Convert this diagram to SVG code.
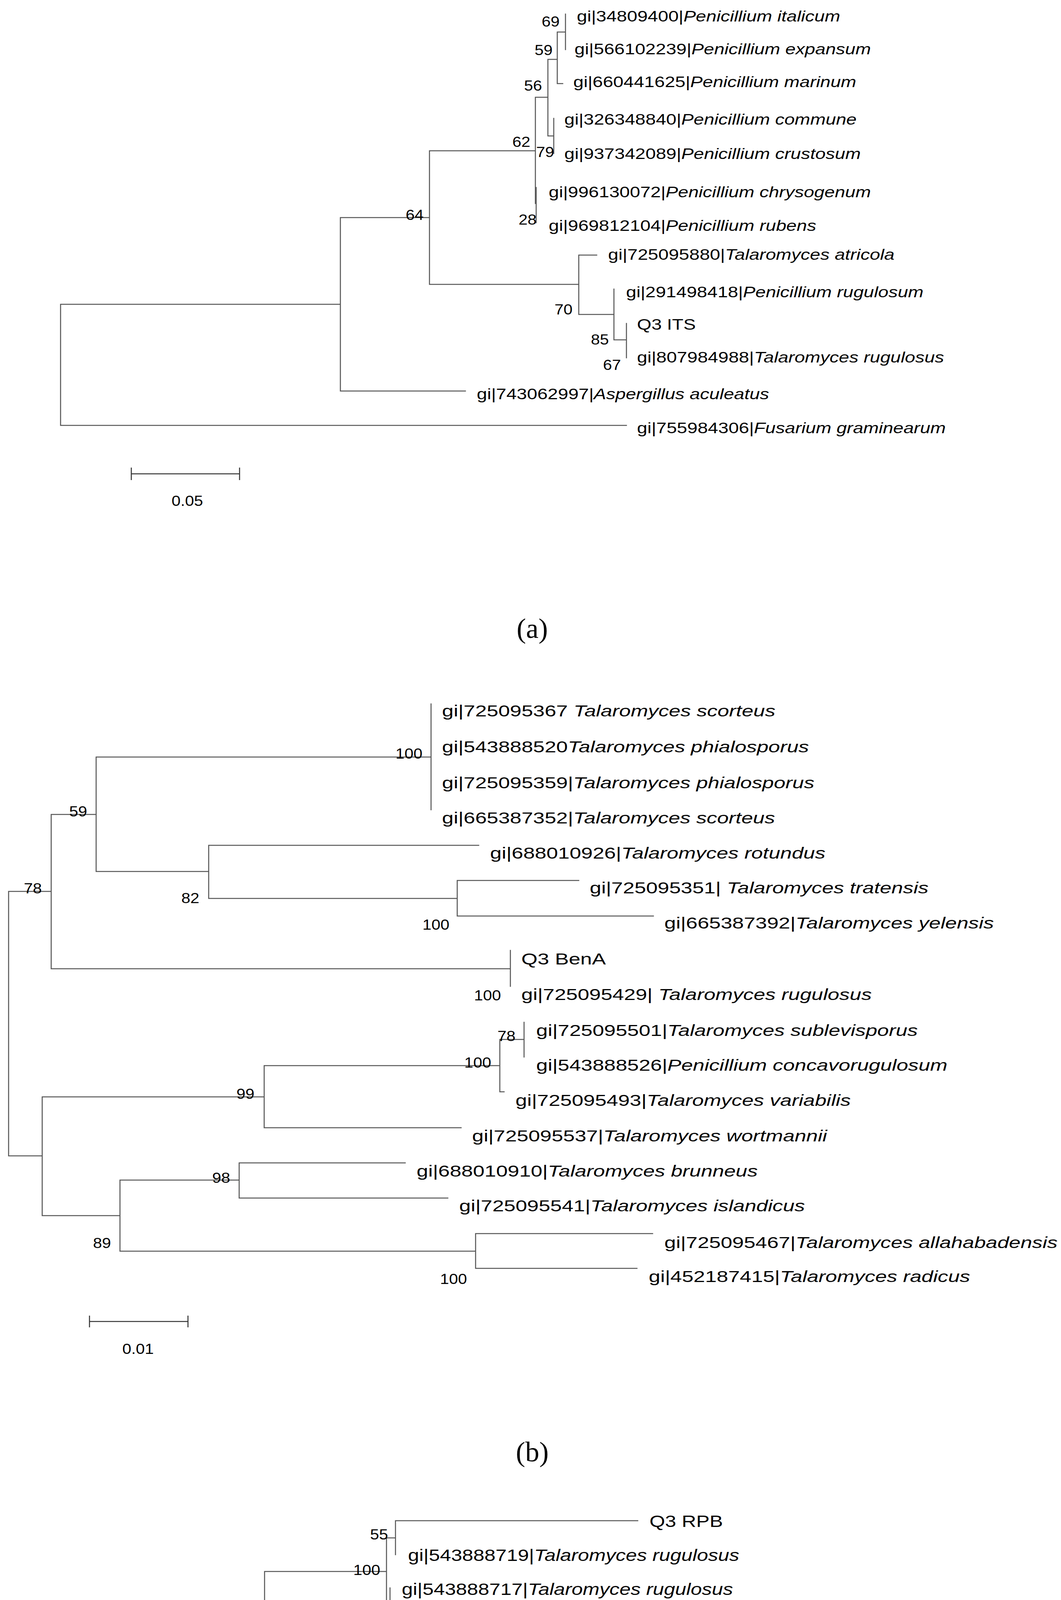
<svg xmlns="http://www.w3.org/2000/svg" width="2715" height="5667" viewBox="0 0 2715 5667">
<style>
.br{fill:none;stroke:#555;stroke-width:2.6;stroke-linecap:square}
.sb{fill:none;stroke:#333;stroke-width:2.6}
text{font-family:"Liberation Sans",Arial,sans-serif;fill:#000}
.la{font-size:38px}
.lb{font-size:41px}
.lc{font-size:42px}
.bs{font-size:37px}
.it{font-style:italic}
.pl{font-family:"Liberation Serif","Times New Roman",serif;font-size:72px;text-anchor:middle}
</style>
<rect width="2715" height="5667" fill="#fff"/>

<!-- Panel (a) -->
<g id="a-connectors">
<path class="br" d="M155 779V1089M155 779H871M155 1089H1603M871 557V1001M871 1001H1191M871 557H1099M1099 386V728M1099 386H1370M1099 728H1481M1370 249V521M1370 249H1402M1372 480V570M1402 152V348M1402 152H1426M1402 348H1417M1426 82V214M1426 82H1447M1426 214H1440M1447 36V127M1417 303V393M1481 653V805M1481 653H1527M1481 805H1571M1571 740V870M1571 870H1603M1603 828V916"/>
</g>
<g id="a-leaves" class="la">
<g id="a-n1"><text transform="translate(1476 55) scale(1.25 1)">gi|34809400|<tspan class="it">Penicillium italicum</tspan></text></g>
<g id="a-n2"><text transform="translate(1470 139) scale(1.25 1)">gi|566102239|<tspan class="it">Penicillium expansum</tspan></text></g>
<g id="a-n3"><text transform="translate(1467 223) scale(1.25 1)">gi|660441625|<tspan class="it">Penicillium marinum</tspan></text></g>
<g id="a-n4"><text transform="translate(1444 319) scale(1.25 1)">gi|326348840|<tspan class="it">Penicillium commune</tspan></text></g>
<g id="a-n5"><text transform="translate(1444 407) scale(1.25 1)">gi|937342089|<tspan class="it">Penicillium crustosum</tspan></text></g>
<g id="a-n6"><text transform="translate(1404 505) scale(1.25 1)">gi|996130072|<tspan class="it">Penicillium chrysogenum</tspan></text></g>
<g id="a-n7"><text transform="translate(1404 591) scale(1.25 1)">gi|969812104|<tspan class="it">Penicillium rubens</tspan></text></g>
<g id="a-n8"><text transform="translate(1556 665) scale(1.25 1)">gi|725095880|<tspan class="it">Talaromyces atricola</tspan></text></g>
<g id="a-n9"><text transform="translate(1602 761) scale(1.25 1)">gi|291498418|<tspan class="it">Penicillium rugulosum</tspan></text></g>
<g id="a-n10"><text transform="translate(1630 844) scale(1.25 1)">Q3 ITS</text></g>
<g id="a-n11"><text transform="translate(1630 928) scale(1.25 1)">gi|807984988|<tspan class="it">Talaromyces rugulosus</tspan></text></g>
<g id="a-n12"><text transform="translate(1220 1022) scale(1.25 1)">gi|743062997|<tspan class="it">Aspergillus aculeatus</tspan></text></g>
<g id="a-n13"><text transform="translate(1630 1109) scale(1.25 1)">gi|755984306|<tspan class="it">Fusarium graminearum</tspan></text></g>
</g>
<g id="a-bootstrap" class="bs">
<text transform="translate(1386 68) scale(1.12 1)">69</text>
<text transform="translate(1368 141) scale(1.12 1)">59</text>
<text transform="translate(1341 232) scale(1.12 1)">56</text>
<text transform="translate(1311 376) scale(1.12 1)">62</text>
<text transform="translate(1372 402) scale(1.12 1)">79</text>
<text transform="translate(1327 575) scale(1.12 1)">28</text>
<text transform="translate(1038 563) scale(1.12 1)">64</text>
<text transform="translate(1419 805) scale(1.12 1)">70</text>
<text transform="translate(1512 882) scale(1.12 1)">85</text>
<text transform="translate(1543 947) scale(1.12 1)">67</text>
</g>
<g id="a-scale">
<path class="sb" d="M336 1213H613M336 1197V1229M613 1197V1229"/>
<text class="bs" transform="translate(439 1295) scale(1.12 1)">0.05</text>
</g>
<text id="a-label" class="pl" x="1362" y="1633">(a)</text>

<!-- Panel (b) -->
<g id="b-connectors">
<path class="br" d="M22 2282V2959M22 2282H131M22 2959H108M131 2085V2480M131 2085H246M131 2480H1306M246 1938V2231M246 1938H1103M246 2231H534M1103 1802V2073M534 2164V2300M534 2164H1225M534 2300H1170M1170 2254V2345M1170 2254H1481M1170 2345H1672M1306 2433V2525M108 2808V3112M108 2808H676M108 3112H307M676 2728V2887M676 2728H1279M676 2887H1180M1279 2661V2795M1279 2661H1341M1279 2795H1290M1341 2617V2706M307 3021V3203M307 3021H612M307 3203H1217M612 2977V3067M612 2977H1037M612 3067H1146M1217 3158V3247M1217 3158H1670M1217 3247H1630"/>
</g>
<g id="b-leaves" class="lb">
<g id="b-n1"><text transform="translate(1131 1834) scale(1.3 1)">gi|725095367 <tspan class="it">Talaromyces scorteus</tspan></text></g>
<g id="b-n2"><text transform="translate(1131 1926) scale(1.3 1)">gi|543888520<tspan class="it">Talaromyces phialosporus</tspan></text></g>
<g id="b-n3"><text transform="translate(1131 2018) scale(1.3 1)">gi|725095359|<tspan class="it">Talaromyces phialosporus</tspan></text></g>
<g id="b-n4"><text transform="translate(1131 2108) scale(1.3 1)">gi|665387352|<tspan class="it">Talaromyces scorteus</tspan></text></g>
<g id="b-n5"><text transform="translate(1254 2198) scale(1.3 1)">gi|688010926|<tspan class="it">Talaromyces rotundus</tspan></text></g>
<g id="b-n6"><text transform="translate(1509 2287) scale(1.3 1)">gi|725095351| <tspan class="it">Talaromyces tratensis</tspan></text></g>
<g id="b-n7"><text transform="translate(1700 2377) scale(1.3 1)">gi|665387392|<tspan class="it">Talaromyces yelensis</tspan></text></g>
<g id="b-n8"><text transform="translate(1334 2469) scale(1.3 1)">Q3 BenA</text></g>
<g id="b-n9"><text transform="translate(1334 2560) scale(1.3 1)">gi|725095429| <tspan class="it">Talaromyces rugulosus</tspan></text></g>
<g id="b-n10"><text transform="translate(1372 2652) scale(1.3 1)">gi|725095501|<tspan class="it">Talaromyces sublevisporus</tspan></text></g>
<g id="b-n11"><text transform="translate(1372 2741) scale(1.3 1)">gi|543888526|<tspan class="it">Penicillium concavorugulosum</tspan></text></g>
<g id="b-n12"><text transform="translate(1319 2831) scale(1.3 1)">gi|725095493|<tspan class="it">Talaromyces variabilis</tspan></text></g>
<g id="b-n13"><text transform="translate(1208 2922) scale(1.3 1)">gi|725095537|<tspan class="it">Talaromyces wortmannii</tspan></text></g>
<g id="b-n14"><text transform="translate(1066 3012) scale(1.3 1)">gi|688010910|<tspan class="it">Talaromyces brunneus</tspan></text></g>
<g id="b-n15"><text transform="translate(1175 3101) scale(1.3 1)">gi|725095541|<tspan class="it">Talaromyces islandicus</tspan></text></g>
<g id="b-n16"><text transform="translate(1700 3195) scale(1.3 1)">gi|725095467|<tspan class="it">Talaromyces allahabadensis</tspan></text></g>
<g id="b-n17"><text transform="translate(1660 3282) scale(1.3 1)">gi|452187415|<tspan class="it">Talaromyces radicus</tspan></text></g>
</g>
<g id="b-bootstrap" class="bs">
<text transform="translate(1012 1942) scale(1.12 1)">100</text>
<text transform="translate(177 2090) scale(1.12 1)">59</text>
<text transform="translate(61 2287) scale(1.12 1)">78</text>
<text transform="translate(464 2312) scale(1.12 1)">82</text>
<text transform="translate(1081 2380) scale(1.12 1)">100</text>
<text transform="translate(1213 2561) scale(1.12 1)">100</text>
<text transform="translate(1273 2665) scale(1.12 1)">78</text>
<text transform="translate(1188 2733) scale(1.12 1)">100</text>
<text transform="translate(605 2813) scale(1.12 1)">99</text>
<text transform="translate(543 3028) scale(1.12 1)">98</text>
<text transform="translate(238 3195) scale(1.12 1)">89</text>
<text transform="translate(1126 3287) scale(1.12 1)">100</text>
</g>
<g id="b-scale">
<path class="sb" d="M229 3383H481M229 3368V3398M481 3368V3398"/>
<text class="bs" transform="translate(313 3466) scale(1.12 1)">0.01</text>
</g>
<text id="b-label" class="pl" x="1362" y="3741">(b)</text>

<!-- Panel (c) -->
<g id="c-connectors">
<path class="br" d="M74 4423V4902M74 4423H119M74 4902H490M119 4283V4565M119 4283H201M119 4565H211M201 4152V4412M201 4152H677M201 4412H995M677 4023V4282M677 4023H989M677 4282H950M989 3937V4108M989 3937H1012M989 4108H998M1012 3893V3980M1012 3893H1632M998 4065V4153M998 4153H1050M950 4240V4326M211 4500V4630M211 4500H890M211 4630H1102M1102 4586V4671M490 4804V4998M490 4804H1445M490 4998H644M1445 4761V4846M1445 4761H1596M1445 4846H1631M644 4934V5064M644 4934H1347M644 5064H888M888 5021V5107M888 5021H1255M888 5107H1372"/>
</g>
<g id="c-leaves" class="lc">
<g id="c-n1"><text transform="translate(1662 3909) scale(1.22 1)">Q3 RPB</text></g>
<g id="c-n2"><text transform="translate(1044 3996) scale(1.22 1)">gi|543888719|<tspan class="it">Talaromyces rugulosus</tspan></text></g>
<g id="c-n3"><text transform="translate(1028 4083) scale(1.22 1)">gi|543888717|<tspan class="it">Talaromyces rugulosus</tspan></text></g>
<g id="c-n4"><text transform="translate(1082 4167) scale(1.22 1)">gi|543888715|<tspan class="it">Talaromyces rugulosus</tspan></text></g>
<g id="c-n5"><text transform="translate(981 4265) scale(1.22 1)">gi|543888721|<tspan class="it">Talaromyces atricola</tspan></text></g>
<g id="c-n6"><text transform="translate(981 4350) scale(1.22 1)">gi|725096020|<tspan class="it">Talaromyces atricola</tspan></text></g>
<g id="c-n7"><text transform="translate(1029 4423) scale(1.22 1)">gi|543888723|<tspan class="it">Talaromyces rotundus</tspan></text></g>
<g id="c-n8"><text transform="translate(921 4523) scale(1.22 1)">gi|543888711|<tspan class="it">Talaromyces scorteus</tspan></text></g>
<g id="c-n9"><text transform="translate(1131 4610) scale(1.22 1)">gi|765204869| <tspan class="it">Talaromyces yelensis</tspan></text></g>
<g id="c-n10"><text transform="translate(1134 4694) scale(1.22 1)">gi|765204871|<tspan class="it">Talaromyces yelensis</tspan></text></g>
<g id="c-n11"><text transform="translate(1627 4783) scale(1.22 1)">gi|543888735|<tspan class="it">Talaromyces wortmannii</tspan></text></g>
<g id="c-n12"><text transform="translate(1662 4861) scale(1.22 1)">gi|543888739|<tspan class="it">Penicillium concavorugulosum</tspan></text></g>
<g id="c-n13"><text transform="translate(1380 4952) scale(1.22 1)">gi|543888733|<tspan class="it">Talaromyces allahabadensis</tspan></text></g>
<g id="c-n14"><text transform="translate(1290 5040) scale(1.22 1)">gi|543888727|<tspan class="it">Talaromyces loliensis</tspan></text></g>
<g id="c-n15"><text transform="translate(1402 5125) scale(1.22 1)">gi|543888725|<tspan class="it">Talaromyces islandicus</tspan></text></g>
</g>
<g id="c-bootstrap" class="bs">
<text transform="translate(947 3941) scale(1.12 1)">55</text>
<text transform="translate(904 4032) scale(1.12 1)">100</text>
<text transform="translate(589 4159) scale(1.12 1)">100</text>
<text transform="translate(943 4186) scale(1.12 1)">44</text>
<text transform="translate(134 4289) scale(1.12 1)">57</text>
<text transform="translate(866 4359) scale(1.12 1)">100</text>
<text transform="translate(148 4641) scale(1.12 1)">55</text>
<text transform="translate(1018 4707) scale(1.12 1)">100</text>
<text transform="translate(1359 4809) scale(1.12 1)">100</text>
<text transform="translate(398 4977) scale(1.12 1)">100</text>
<text transform="translate(576 5075) scale(1.12 1)">90</text>
<text transform="translate(805 5139) scale(1.12 1)">100</text>
</g>
<g id="c-scale">
<path class="sb" d="M269 5238H459M269 5223V5254M459 5223V5254"/>
<text class="bs" transform="translate(312 5317) scale(1.12 1)">0.005</text>
</g>
<text id="c-label" class="pl" x="1364" y="5637">(c)</text>
</svg>
